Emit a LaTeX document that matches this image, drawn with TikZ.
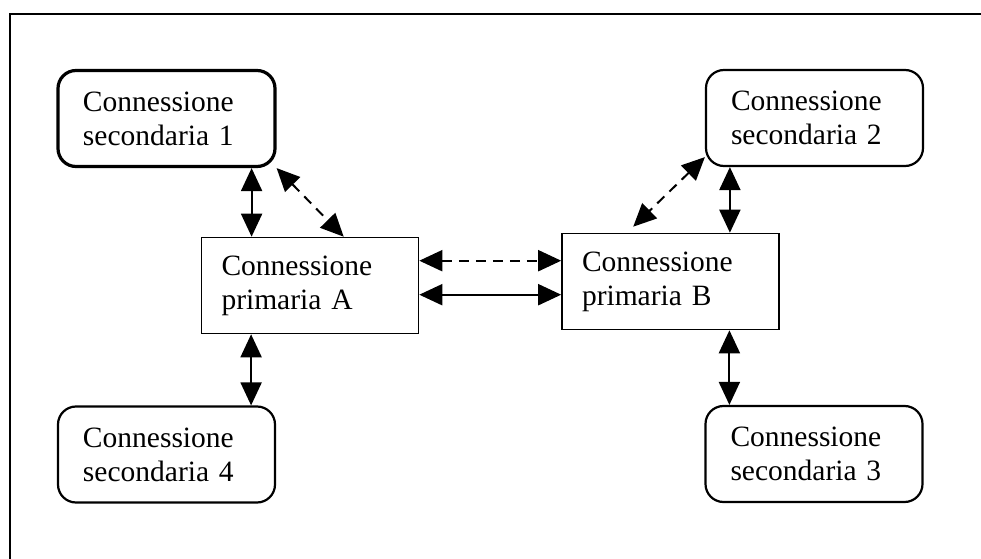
\documentclass[tikz,border=0pt]{standalone}
\usepackage{fontspec}
\setmainfont{Liberation Serif}
\usetikzlibrary{arrows.meta}
\begin{document}
\begin{tikzpicture}[x=1bp, y=-1bp,
  every node/.style={font=\fontsize{29.5bp}{34bp}\selectfont},
  secbox/.style={draw, line width=2.2bp, rounded corners=18bp, minimum width=217bp,
    minimum height=96bp, text width=167bp, inner xsep=0bp, align=left},
  primbox/.style={draw, line width=1.6bp, minimum width=217bp, minimum height=96bp,
    text width=177bp, inner xsep=0bp, align=left},
  link/.style={line width=2bp, {Triangle[length=23bp,width=21bp]}-{Triangle[length=23bp,width=21bp]}},
  dlink/.style={link, dash pattern=on 10bp off 7bp}]
  \useasboundingbox (0,0) rectangle (981,559);
  % frame
  \coordinate (F1) at (10,559);
  \coordinate (F2) at (10,14);
  \coordinate (F3) at (981,14);
  \draw[line width=2.2bp] (F1) -- (F2) -- (F3);
  % boxes
  \node[secbox, line width=3.2bp] (sec1) at (166.5,118.5) {Connessione\\secondaria 1};
  \node[secbox] (sec2) at (814.5,118) {Connessione\\secondaria 2};
  \node[secbox] (sec3) at (814,454) {Connessione\\secondaria 3};
  \node[secbox] (sec4) at (166.5,454.5) {Connessione\\secondaria 4};
  \node[primbox] (primA) at (310,285.5) {Connessione\\primaria A};
  \node[primbox] (primB) at (670.5,281.5) {Connessione\\primaria B};
  % connectors
  \coordinate (a1) at ([xshift=-25bp]sec1.south east);
  \coordinate (a4) at ([xshift=-25bp]sec4.north east);
  \coordinate (b2) at ([xshift=25bp]sec2.south west);
  \coordinate (b3) at ([xshift=25bp]sec3.north west);
  \coordinate (dA) at ([xshift=143bp]primA.north west);
  \coordinate (dB) at ([xshift=72bp,yshift=6bp]primB.north west);
  \coordinate (d2) at ([yshift=10bp]sec2.south west);
  \draw[link] (a1) -- (a1 |- primA.north);
  \draw[link] (a4 |- primA.south) -- (a4);
  \draw[link] (b2) -- (b2 |- primB.north);
  \draw[link] (b3 |- primB.south) -- (b3);
  \draw[dlink] (sec1.south east) -- (dA);
  \draw[dlink] (d2) -- (dB);
  \draw[dlink] ([yshift=-24bp]primA.north east) -- ([yshift=-24bp]primA.north east -| primB.west);
  \draw[link] ([yshift=-58bp]primA.north east) -- ([yshift=-58bp]primA.north east -| primB.west);
\end{tikzpicture}
\end{document}
